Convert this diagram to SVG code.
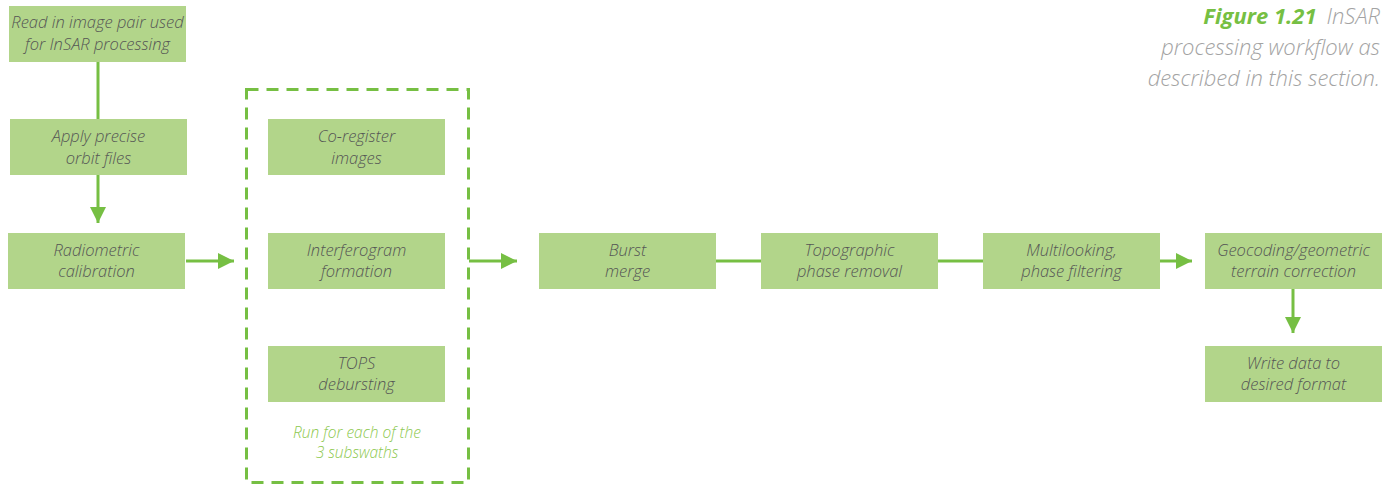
<svg xmlns="http://www.w3.org/2000/svg" width="1384" height="487" viewBox="0 0 1384 487">
<style>
.box{fill:#b2d58a}
.t{font-family:"Open Sans","Liberation Sans",sans-serif;font-style:italic;font-weight:300;font-size:16.5px;fill:#555;text-anchor:middle}
.c{stroke:#76bf43;stroke-width:3;fill:none}
.cap{font-family:"Open Sans","Liberation Sans",sans-serif;font-style:italic;font-size:22px;fill:#a3a3a3;text-anchor:end;font-weight:300}
.fig{fill:#76bf43;font-weight:700}
.note{font-family:"Open Sans","Liberation Sans",sans-serif;font-style:italic;font-weight:300;font-size:15.5px;fill:#8cc84e;text-anchor:middle}
</style>
<defs>
<marker id="ah" markerWidth="16" markerHeight="16" viewBox="0 0 16 16" refX="16" refY="8" orient="auto" markerUnits="userSpaceOnUse">
<path d="M0,0 L16,8 L0,16 Z" fill="#76bf43"/>
</marker>
</defs>
<g id="caption">
<text class="cap" x="1380" y="24"><tspan class="fig">Figure 1.21</tspan><tspan dx="10">InSAR</tspan></text>
<text class="cap" x="1380" y="55">processing workflow as</text>
<text class="cap" x="1380" y="86">described in this section.</text>
</g>
<g id="connectors">
<line class="c" x1="98" y1="62" x2="98" y2="119"/>
<line class="c" x1="98" y1="175" x2="98" y2="223" marker-end="url(#ah)"/>
<line class="c" x1="186" y1="261" x2="234" y2="261" marker-end="url(#ah)"/>
<line class="c" x1="469" y1="261" x2="517" y2="261" marker-end="url(#ah)"/>
<line class="c" x1="716" y1="261" x2="761" y2="261"/>
<line class="c" x1="938" y1="261" x2="983" y2="261"/>
<line class="c" x1="1160" y1="261" x2="1192" y2="261" marker-end="url(#ah)"/>
<line class="c" x1="1293" y1="289" x2="1293" y2="333" marker-end="url(#ah)"/>
</g>
<g id="group-subswaths">
<rect x="246.5" y="89.5" width="222" height="393" fill="none" stroke="#76bf43" stroke-width="3" stroke-dasharray="12,8"/>
<text class="note" x="357" y="438">Run for each of the</text>
<text class="note" x="357" y="458">3 subswaths</text>
</g>
<g id="n1"><rect class="box" x="9" y="6" width="177" height="56"/><text class="t" x="97.5" y="28">Read in image pair used</text><text class="t" x="97.5" y="50">for InSAR processing</text></g>
<g id="n2"><rect class="box" x="10" y="119" width="177" height="56"/><text class="t" x="98.5" y="142">Apply precise</text><text class="t" x="98.5" y="164">orbit files</text></g>
<g id="n3"><rect class="box" x="8" y="233" width="177" height="56"/><text class="t" x="96.5" y="256">Radiometric</text><text class="t" x="96.5" y="277">calibration</text></g>
<g id="n4"><rect class="box" x="268" y="119" width="177" height="56"/><text class="t" x="356.5" y="142">Co-register</text><text class="t" x="356.5" y="164">images</text></g>
<g id="n5"><rect class="box" x="268" y="233" width="177" height="56"/><text class="t" x="356.5" y="256">Interferogram</text><text class="t" x="356.5" y="277">formation</text></g>
<g id="n6"><rect class="box" x="268" y="346" width="177" height="56"/><text class="t" x="356.5" y="369">TOPS</text><text class="t" x="356.5" y="390">debursting</text></g>
<g id="n7"><rect class="box" x="539" y="233" width="177" height="56"/><text class="t" x="627.5" y="256">Burst</text><text class="t" x="627.5" y="277">merge</text></g>
<g id="n8"><rect class="box" x="761" y="233" width="177" height="56"/><text class="t" x="849.5" y="256">Topographic</text><text class="t" x="849.5" y="277">phase removal</text></g>
<g id="n9"><rect class="box" x="983" y="233" width="177" height="56"/><text class="t" x="1071.5" y="256">Multilooking,</text><text class="t" x="1071.5" y="277">phase filtering</text></g>
<g id="n10"><rect class="box" x="1205" y="233" width="177" height="56"/><text class="t" x="1293.5" y="256">Geocoding/geometric</text><text class="t" x="1293.5" y="277">terrain correction</text></g>
<g id="n11"><rect class="box" x="1205" y="346" width="177" height="56"/><text class="t" x="1293.5" y="369">Write data to</text><text class="t" x="1293.5" y="390">desired format</text></g>
</svg>
